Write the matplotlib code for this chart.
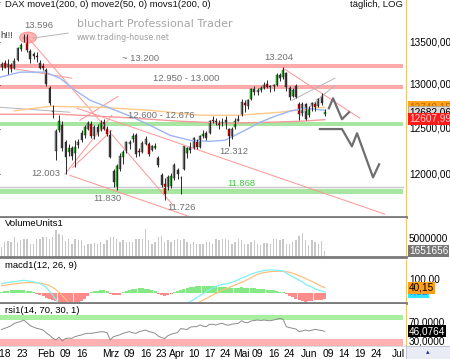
import numpy as np
import matplotlib
matplotlib.use('Agg')
from matplotlib import pyplot as plt
from matplotlib import transforms
from matplotlib.patches import Ellipse, Rectangle

plt.rcParams['font.family'] = ['Liberation Sans', 'DejaVu Sans']
plt.rcParams['font.size'] = 6.8

# daily DAX candles, 12 Jan .. 8 Jun 2018 (trading day index 0..101)
opens = [13210, 13250, 13210, 13230, 13200, 13290, 13420, 13540, 13570, 13400,
         13360, 13340, 13250, 13220, 13170, 12960, 12700, 12250, 12480, 12540,
         12350, 12240, 12290, 12230, 12320, 12450, 12430, 12500, 12555, 12420,
         12520, 12480, 12570, 12500, 12430, 12040, 11850, 12060, 12190, 12250,
         12330, 12380, 12430, 12250, 12240, 12330, 12330, 12260, 12290, 12180,
         11990, 11900, 11850, 11880, 11960, 12050, 11960, 12060, 12230, 12300,
         12280, 12350, 12300, 12420, 12450, 12450, 12600, 12580, 12560, 12560,
         12600, 12500, 12410, 12520, 12590, 12650, 12790, 12750, 12830, 12950,
         12920, 12940, 12960, 13010, 12990, 12980, 13000, 13110, 13090, 13140,
         12960, 12870, 12990, 12780, 12680, 12780, 12650, 12760, 12780, 12750,
         12870, 12660]
highs = [13260, 13290, 13300, 13250, 13310, 13450, 13490, 13597, 13596, 13420,
         13390, 13390, 13290, 13250, 13200, 12990, 12770, 12500, 12650, 12580,
         12370, 12330, 12310, 12370, 12390, 12480, 12540, 12580, 12580, 12540,
         12550, 12600, 12610, 12530, 12480, 12060, 12110, 12230, 12260, 12360,
         12370, 12450, 12450, 12290, 12360, 12420, 12350, 12320, 12340, 12200,
         12010, 11960, 11990, 12010, 12120, 12070, 11980, 12310, 12300, 12350,
         12410, 12390, 12430, 12480, 12470, 12600, 12640, 12620, 12600, 12620,
         12640, 12510, 12520, 12620, 12650, 12830, 12820, 12830, 12960, 12990,
         12960, 12990, 13030, 13050, 13000, 13010, 13130, 13130, 13204, 13150,
         12990, 12960, 13010, 12800, 12800, 12790, 12760, 12800, 12800, 12850,
         12900, 12720]
lows = [13170, 13190, 13120, 13150, 13180, 13280, 13400, 13500, 13390, 13250,
        13300, 13260, 13180, 13170, 12990, 12770, 12620, 12160, 12460, 12250,
        12003, 12200, 12150, 12080, 12290, 12350, 12400, 12480, 12400, 12390,
        12420, 12470, 12480, 12420, 12180, 11870, 11830, 12040, 12110, 12230,
        12270, 12350, 12190, 12200, 12230, 12320, 12200, 12250, 12270, 12080,
        11860, 11726, 11830, 11850, 11940, 11950, 11790, 12050, 12180, 12230,
        12270, 12270, 12290, 12400, 12370, 12440, 12560, 12540, 12500, 12530,
        12500, 12312, 12390, 12500, 12580, 12640, 12690, 12720, 12820, 12880,
        12880, 12920, 12950, 12960, 12920, 12930, 12990, 13040, 13070, 12930,
        12820, 12860, 12850, 12600, 12640, 12600, 12630, 12700, 12700, 12740,
        12770, 12640]
closes = [13245, 13200, 13246, 13183, 13281, 13434, 13463, 13559, 13414, 13298,
          13340, 13324, 13197, 13189, 13004, 12785, 12687, 12470, 12590, 12280,
          12190, 12282, 12196, 12300, 12346, 12370, 12520, 12560, 12420, 12520,
          12440, 12560, 12500, 12435, 12190, 11914, 12090, 12200, 12245, 12355,
          12346, 12418, 12221, 12237, 12345, 12390, 12217, 12307, 12309, 12100,
          11886, 11787, 11970, 11980, 12096, 12002, 11957, 12305, 12280, 12261,
          12397, 12293, 12415, 12442, 12391, 12585, 12590, 12567, 12540, 12572,
          12550, 12422, 12500, 12580, 12612, 12802, 12763, 12819, 12948, 12912,
          12943, 12957, 13001, 12977, 12970, 12996, 13114, 13077, 13169, 12976,
          12855, 12940, 12863, 12666, 12783, 12604, 12724, 12787, 12747, 12830,
          12790, 12682]

volume_mio = [2.7, 4.1, 4.3, 4.1, 5.5, 4.1, 4.6, 4.9, 5.0, 3.7,
              3.7, 4.9, 5.0, 5.5, 5.5, 4.9, 5.5, 7.3, 6.4, 6.1,
              4.3, 4.9, 3.7, 5.0, 4.6, 4.8, 3.2, 3.7, 3.7, 3.9,
              3.7, 4.1, 3.7, 4.6, 5.5, 5.5, 4.9, 4.1, 4.6, 4.1,
              4.1, 4.1, 5.0, 5.0, 4.9, 7.6, 4.6, 3.7, 4.1, 5.5,
              5.8, 4.1, 4.6, 4.1, 4.6, 5.0, 4.6, 4.9, 4.1, 3.7,
              4.1, 3.7, 3.7, 3.7, 4.1, 4.1, 3.7, 5.0, 4.6, 4.9,
              4.9, 4.6, 3.7, 4.1, 4.9, 4.6, 3.7, 3.7, 4.1, 4.6,
              3.7, 3.4, 3.9, 3.9, 3.7, 5.0, 4.9, 4.6, 5.0, 3.7,
              3.7, 4.1, 4.6, 5.8, 6.7, 4.6, 3.4, 4.6, 4.1, 3.7,
              4.3, 1.65]

macd_line = [70, 75, 80, 82, 85, 88, 92, 95, 92, 88,
             84, 78, 70, 60, 40, 15, -15, -50, -80, -120,
             -160, -180, -190, -190, -185, -175, -165, -150, -140, -130,
             -120, -110, -105, -110, -140, -160, -165, -160, -150, -135,
             -120, -110, -100, -95, -85, -72, -80, -90, -100, -115,
             -130, -140, -140, -135, -125, -115, -105, -90, -75, -65,
             -50, -35, -20, -5, 10, 25, 38, 48, 58, 65,
             67, 72, 80, 90, 100, 112, 120, 130, 142, 150,
             157, 162, 168, 172, 173, 172, 170, 168, 165, 150,
             135, 122, 110, 95, 85, 65, 55, 45, 30, 22,
             15, 7.52]
macd_signal = [55, 58, 62, 65, 68, 71, 74, 77, 78, 78,
               77, 76, 74, 70, 64, 55, 42, 25, 5, -20,
               -45, -70, -95, -115, -130, -140, -148, -150, -148, -145,
               -140, -135, -128, -125, -128, -133, -138, -140, -142, -140,
               -135, -130, -125, -118, -112, -105, -100, -98, -100, -103,
               -108, -113, -118, -120, -121, -120, -117, -112, -105, -97,
               -88, -78, -66, -54, -41, -28, -15, -2, 10, 21,
               30, 40, 50, 60, 70, 80, 90, 102, 115, 128,
               140, 148, 153, 157, 160, 162, 163, 163, 162, 160,
               155, 148, 140, 130, 120, 110, 98, 86, 74, 62,
               50, 40.15]
macd_hist = [10, 15, 18, 20, 22, 22, 22, 20, 16, 12,
             6, -5, -15, -25, -35, -45, -55, -62, -70, -75,
             -78, -80, -80, -78, -72, -62, -48, -25, 5, 12,
             18, 22, 22, 15, -5, -15, -18, -12, 8, 18,
             25, 30, 32, 35, 35, 32, 28, 22, 12, -8,
             -18, -22, -18, -8, 5, 12, 20, 28, 35, 42,
             48, 52, 55, 56, 56, 55, 53, 50, 48, 45,
             42, 40, 38, 38, 40, 42, 40, 38, 36, 34,
             32, 30, 28, 26, 24, 20, 16, 10, 5, -10,
             -22, -32, -42, -52, -60, -65, -62, -58, -55, -52,
             -50, -45]
rsi_values = [50, 52.5, 55, 58, 63, 65, 67, 70, 64, 58,
              55, 52.5, 51, 49, 43, 38, 32, 28, 34, 26,
              31, 32, 31.5, 35, 37, 38.5, 41, 42, 42, 43,
              44, 45.5, 45, 43, 28, 35, 37, 39, 42, 44,
              45.5, 43, 42, 45.5, 47, 49, 46, 44, 42, 36,
              33, 31, 37, 40, 42, 43.5, 52, 51, 50, 55,
              56, 56, 59.5, 57, 56, 61, 61, 59.5, 62, 63,
              60, 59, 61.5, 62, 63, 68.5, 65, 64.5, 68, 69,
              70, 69, 70, 69, 68.5, 70, 71.5, 73.5, 71.5, 56,
              54, 52.5, 51, 45.5, 47, 49, 47, 48.5, 50.4, 49,
              48, 46.08]

# moving averages: (day index, price)
ma_blue_x = [-0.5, 5.8, 13.6, 18.3, 23, 27.7, 33.9, 40.2, 46.4, 52.7, 58.9, 65.2, 69.8, 76.1, 80.8, 85.5, 90.2, 94.8, 101]
ma_blue_y = [13087, 13146, 13146, 13075, 12935, 12820, 12730, 12640, 12537, 12425, 12370, 12359, 12370, 12481, 12571, 12639, 12696, 12730, 12706]
ma_orange_x = [4, 15.2, 30.8, 46.4, 62, 74.5, 87, 96.4, 101]
ma_orange_y = [12700, 12751, 12740, 12706, 12650, 12650, 12684, 12729, 12740]
ma_red_x = [-0.5, 18.3, 37, 55.8, 69.8, 83.9, 93.3, 101]
ma_red_y = [12661, 12661, 12627, 12582, 12560, 12571, 12582, 12600]

# drawn trend lines ((day, price), (day, price))
pink_lines = [((8.9, 13528), (53.6, 11674)),
              ((1.1, 13204), (22, 13075)),
              ((19.8, 12002), (34.5, 12650)),
              ((22.3, 12075), (34.5, 12481)),
              ((24.5, 12593), (36.4, 12866)),
              ((21.4, 11989), (58.3, 11561)),
              ((23.6, 12729), (119.8, 11581)),
              ((88, 13192), (112, 12616))]
grey_lines = [((9.8, 13551), (20.8, 13612)),
              ((-0.5, 12740), (21.4, 12684)),
              ((90.8, 12820), (104.2, 13075)),
              ((93.3, 12650), (104.2, 12994))]

# projected paths
path1_x = [102.3, 103.6, 106.4, 108.6]
path1_y = [12729, 12843, 12605, 12684]
path2_x = [99.5, 106.4, 109.5, 111.1, 116.1, 118]
path2_y = [12495, 12495, 12304, 12448, 11968, 12108]

# zones
red_zones = [(13190, 13245), (12950, 13000)]
green_zones = [(12531, 12577), (11790, 11840)]
support_line = 11868

price_notes = [("13.596", 11.7, 13700), ("~ 13.200", 43.3, 13311), ("12.950 - 13.000", 57.8, 13075),
               ("13.204", 86.7, 13323), ("12.600 - 12.676", 50, 12650), ("12.003", 13.9, 12010),
               ("11.830", 33.1, 11744), ("11.726", 56.1, 11650), ("12.312", 72.7, 12252)]
green_note = ("11.868", 75, 11903)
ath_day, ath_price = 8.3, 13558

tick_pos = [0.7, 6.6, 14, 20, 25, 34, 40, 45, 50, 55, 60, 65, 70, 75, 80, 85, 90, 96, 102, 107, 112, 117, 124]
tick_lab = ["'18", "23", "Feb", "09", "16", "Mrz", "09", "16", "23", "Apr", "10", "17", "24",
            "Mai", "09", "16", "24", "Jun", "09", "14", "19", "24", "Jul"]
price_ticks = [12000, 12500, 13000, 13500]

W, H = 450, 359
fig = plt.figure(figsize=(4.5, 3.59), dpi=100)
fig.patch.set_facecolor('white')
pw = 406 / W
ax = fig.add_axes([0, (H - 216.5) / H, pw, 216.5 / H])
ax_vol = fig.add_axes([0, (H - 257) / H, pw, 39.5 / H], sharex=ax)
ax_macd = fig.add_axes([0, (H - 303) / H, pw, 44.5 / H], sharex=ax)
ax_rsi = fig.add_axes([0, (H - 346) / H, pw, 42 / H], sharex=ax)

for a in (ax, ax_vol, ax_macd, ax_rsi):
    a.set_xlim(-0.47, 126.4)
    a.set_yticks([])
    a.spines['top'].set_visible(False)
    a.spines['left'].set_visible(False)
    a.spines['right'].set_color('#f2c46e')
    a.spines['right'].set_linestyle((0, (1, 1)))
    a.spines['right'].set_linewidth(0.8)
    a.spines['bottom'].set_color('#7a7a7a')
    a.spines['bottom'].set_linewidth(2)
    a.tick_params(axis='x', length=0, labelbottom=False)
ax_rsi.spines['bottom'].set_linewidth(0.5)
ax_rsi.spines['bottom'].set_color('#d0d0d0')


def right_label(a, text, value, dy=0, **box):
    a.annotate(text, xy=(1, value), xycoords=('axes fraction', 'data'),
               xytext=(2, dy), textcoords='offset points', ha='left', va='center',
               fontsize=7.2, annotation_clip=False, **box)


# ---- price panel
ax.set_yscale('log')
ax.set_ylim(11557, 14020)
for lo, hi in red_zones:
    ax.axhspan(lo, hi, xmax=0.993, color='#ffaaaa', lw=0)
for lo, hi in green_zones:
    ax.axhspan(lo, hi, xmax=0.993, color='#a6e6a0', lw=0)
ax.axhline(support_line, xmax=0.993, color='#c8c8c8', lw=1)

for (x0, y0), (x1, y1) in pink_lines:
    ax.plot([x0, x1], [y0, y1], color='#ff9494', lw=0.7)
for (x0, y0), (x1, y1) in grey_lines:
    ax.plot([x0, x1], [y0, y1], color='#b4b4b4', lw=0.7)

ax.plot(ma_orange_x, ma_orange_y, color='#ffc98a', lw=1)
ax.plot(ma_red_x, ma_red_y, color='#f59a9a', lw=1)
ax.plot(ma_blue_x, ma_blue_y, color='#9db5f2', lw=1)

o = np.array(opens, float)
c = np.array(closes, float)
days = np.arange(len(o))
up = c >= o
ax.vlines(days, lows, highs, color='#2a2a2a', lw=0.7)
ax.bar(days[up], np.maximum(c - o, 4)[up], bottom=o[up], width=0.62,
       color='#2fc42f', edgecolor='#1f1f1f', lw=0.3)
ax.bar(days[~up], np.maximum(o - c, 4)[~up], bottom=c[~up], width=0.62,
       color='#e00000', edgecolor='#1f1f1f', lw=0.3)

ax.plot(path1_x, path1_y, color='#6e6e6e', lw=1.6)
ax.plot(path2_x, path2_y, color='#6e6e6e', lw=1.6)

trans = fig.dpi_scale_trans + transforms.ScaledTranslation(ath_day, ath_price, ax.transData)
ax.add_patch(Ellipse((0, 0), 0.17, 0.11, transform=trans, facecolor='#ff9a9a',
                     edgecolor='#ff7070', lw=0.6, alpha=0.75))

for txt, xd, yd in price_notes:
    ax.text(xd, yd, txt, color='#707070', ha='center', va='center', fontsize=6.8)
ax.text(green_note[1], green_note[2], green_note[0], color='#3cc83c', ha='center', va='center', fontsize=6.8)
ax.text(-0.4, 13580, 'h!!!', color='#333333', ha='left', va='center', fontsize=6.8)

ax.text(0.012, 0.977, 'DAX move1(200, 0) move2(50, 0) movs1(200, 0)', transform=ax.transAxes,
        ha='left', va='center', fontsize=6.8, color='#111111')
ax.text(0.993, 0.977, 't\u00e4glich, LOG', transform=ax.transAxes,
        ha='right', va='center', fontsize=6.8, color='#111111')
ax.text(0.19, 0.889, 'bluchart Professional Trader', transform=ax.transAxes,
        ha='left', va='center', fontsize=8, color='#a6a6a6', family='DejaVu Sans')
ax.text(0.19, 0.829, 'www.trading-house.net', transform=ax.transAxes,
        ha='left', va='center', fontsize=5.8, color='#a0a0a0', family='DejaVu Sans')

for t in price_ticks:
    right_label(ax, f'{t},00', t)
right_label(ax, '12740,15', 12740.15, color='#b86a00',
            bbox=dict(boxstyle='square,pad=0.1', fc='#ffa31a', ec='none'))
right_label(ax, '12682,06', 12682.06,
            bbox=dict(boxstyle='square,pad=0.1', fc='#d9d9d9', ec='#999999', lw=0.4))
right_label(ax, '12607,99', 12607.99, color='#ffd0d0',
            bbox=dict(boxstyle='square,pad=0.1', fc='#ff1a1a', ec='none'))

# ---- volume panel
ax_vol.set_ylim(0, 10.85)
ax_vol.bar(days, volume_mio, width=0.4, color='#c8c8c8')
ax_vol.text(0.012, 0.85, 'VolumeUnits1', transform=ax_vol.transAxes, ha='left', va='center', fontsize=6.8)
right_label(ax_vol, '5000000', 5.0)
right_label(ax_vol, '0', 0, dy=2)
right_label(ax_vol, '1651656', 1.65, color='white',
            bbox=dict(boxstyle='square,pad=0.1', fc='#777777', ec='none'))

# ---- macd panel
ax_macd.set_ylim(-75, 258.75)
hist = np.array(macd_hist, float)
ax_macd.bar(days, hist, width=0.95, color=np.where(hist >= 0, '#84e884', '#ff8a8a'))
ax_macd.plot(days, macd_signal, color='#ffbf80', lw=0.9)
ax_macd.plot(days, macd_line, color='#7cf2f2', lw=0.9)
ax_macd.text(0.012, 0.85, 'macd1(12, 26, 9)', transform=ax_macd.transAxes, ha='left', va='center', fontsize=6.8)
right_label(ax_macd, '100,00', 100)
right_label(ax_macd, '0', 0)
right_label(ax_macd, '7,52', 7.52, color='#2a6ccf',
            bbox=dict(boxstyle='square,pad=0.1', fc='#33e6ff', ec='none'))
right_label(ax_macd, '40,15', 40.15,
            bbox=dict(boxstyle='square,pad=0.1', fc='#ff9c1a', ec='none'))

# ---- rsi panel
ax_rsi.set_ylim(15.3, 103.7)
ax_rsi.axhspan(70, 80, xmax=0.993, color='#a8f0a0', lw=0)
ax_rsi.axhspan(15.3, 30, xmax=0.993, color='#ffb0b0', lw=0)
ax_rsi.plot(days, rsi_values, color='#8c8c8c', lw=0.7)
ax_rsi.text(0.012, 0.85, 'rsi1(14, 70, 30, 1)', transform=ax_rsi.transAxes, ha='left', va='center', fontsize=6.8)
right_label(ax_rsi, '70,0000', 70, dy=-1.5)
right_label(ax_rsi, '30,0000', 30, dy=-1.5)
right_label(ax_rsi, '46,0764', 46.0764, color='white',
            bbox=dict(boxstyle='square,pad=0.1', fc='black', ec='none'))

ax_rsi.set_xticks(tick_pos)
ax_rsi.set_xticklabels(tick_lab)
ax_rsi.tick_params(axis='x', length=0, pad=2.5, labelsize=7.4, labelbottom=True)

fig.patches.append(Rectangle((pw, 0), 1 - pw, 13 / H, transform=fig.transFigure,
                             facecolor='#e9ebf5', edgecolor='#b8bccc', lw=0.6))
fig.text(pw + (1 - pw) / 2, 6.5 / H, '\u25b4', color='#2233aa', ha='center', va='center', fontsize=5)

fig.savefig('out.png', dpi=100)
